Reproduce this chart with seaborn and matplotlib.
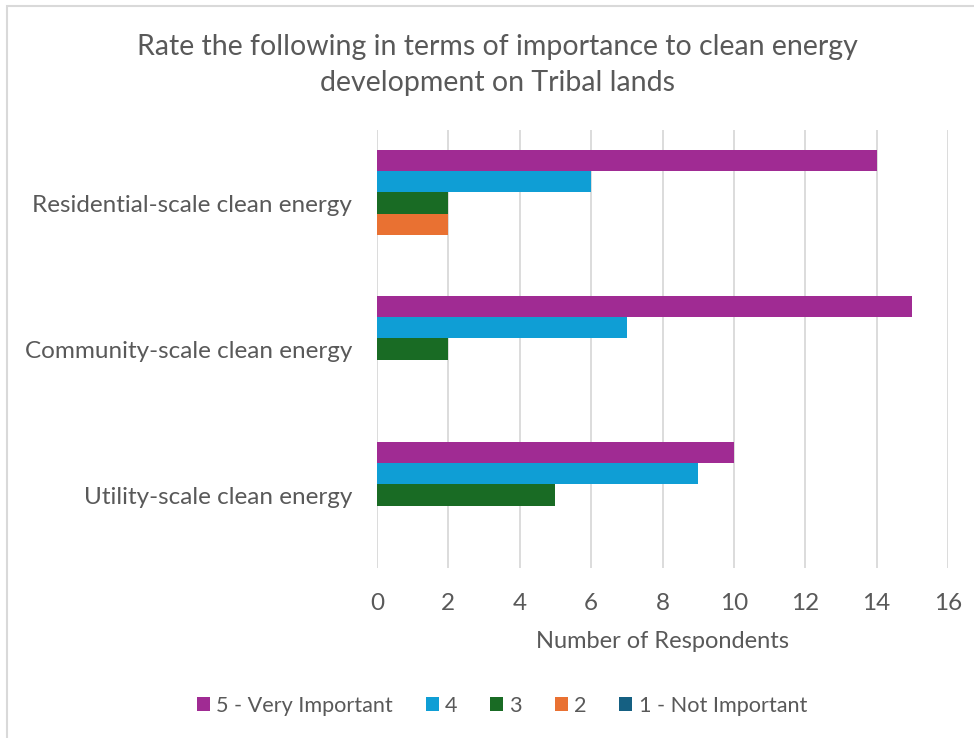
import matplotlib
matplotlib.use("Agg")
import matplotlib.pyplot as plt
from matplotlib.patches import Rectangle
import seaborn as sns
import pandas as pd

# Survey categories and response counts per rating
categories = ["Residential-scale clean energy",
              "Community-scale clean energy",
              "Utility-scale clean energy"]
ratings = ["5 - Very Important", "4", "3", "2", "1 - Not Important"]
very_important = [14, 15, 10]
rating_4 = [6, 7, 9]
rating_3 = [2, 2, 5]
rating_2 = [2, 0, 0]
not_important = [0, 0, 0]
x_ticks = [0, 2, 4, 6, 8, 10, 12, 14, 16]

colors = ["#A02B93", "#0F9ED5", "#196B24", "#E97132", "#156082"]
text_color = "#595959"

series = [very_important, rating_4, rating_3, rating_2, not_important]
rows = []
for rating, vals in zip(ratings, series):
    for cat, v in zip(categories, vals):
        rows.append({"Category": cat, "Rating": rating, "Count": v})
df = pd.DataFrame(rows)

sns.set_theme(style="white")
plt.rcParams["font.family"] = ["Lato", "DejaVu Sans"]

fig = plt.figure(figsize=(9.74, 7.38), dpi=100)
ax = fig.add_axes([377 / 974, 1 - 568 / 738, 571 / 974, 438 / 738])

sns.barplot(data=df, y="Category", x="Count", hue="Rating",
            order=categories, hue_order=ratings, palette=colors,
            orient="h", width=0.72, linewidth=0, saturation=1,
            errorbar=None, ax=ax, legend=True)

ax.set_xlim(0, 16)
ax.set_ylim(2.5, -0.5)
ax.set_xticks(x_ticks)
ax.set_xticklabels([str(t) for t in x_ticks])
ax.xaxis.grid(True, color="#D9D9D9", linewidth=1.3)
ax.set_axisbelow(True)
for s in ax.spines.values():
    s.set_visible(False)
ax.tick_params(axis="both", length=0, labelsize=17.5, labelcolor=text_color)
ax.tick_params(axis="y", pad=18)
ax.tick_params(axis="x", pad=18)
ax.set_ylabel("")
ax.set_xlabel("Number of Respondents", fontsize=17, color=text_color, labelpad=12)

handles, labels = ax.get_legend_handles_labels()
ax.get_legend().remove()
fig.legend(handles, labels, loc="center", bbox_to_anchor=(502 / 974, 1 - 706 / 738),
           ncol=5, frameon=False, fontsize=15.6, labelcolor=text_color,
           handlelength=0.6, handleheight=0.6, handletextpad=0.3, columnspacing=1.5)

fig.text(497 / 974, 1 - 47 / 738, "Rate the following in terms of importance to clean energy",
         ha="center", va="center", fontsize=20.5, color=text_color)
fig.text(497 / 974, 1 - 83 / 738, "development on Tribal lands",
         ha="center", va="center", fontsize=20.5, color=text_color)

# chart frame
fig.patches.append(Rectangle((7 / 974, -0.1), 1.2, 1 - 6 / 738 + 0.1,
                             transform=fig.transFigure, fill=False,
                             edgecolor="#D9D9D9", linewidth=1.5))

fig.savefig("out.png", dpi=100)
